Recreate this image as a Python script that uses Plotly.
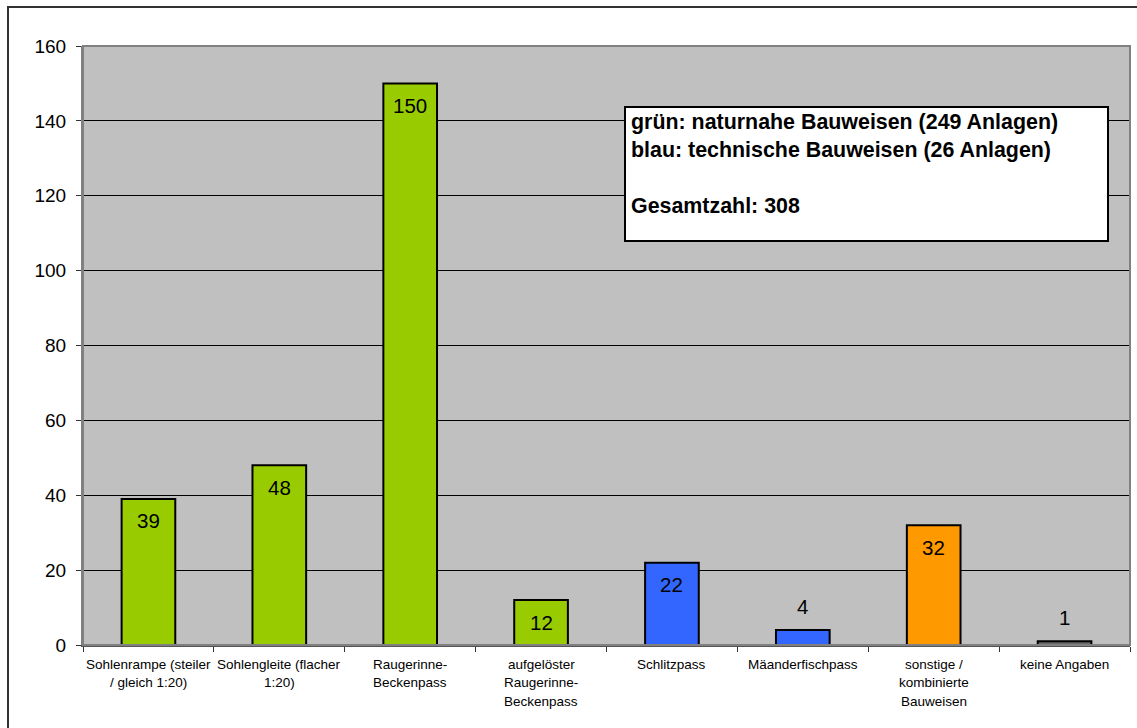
import plotly.graph_objects as go

categories = [
    "Sohlenrampe (steiler\n/ gleich 1:20)",
    "Sohlengleite (flacher\n1:20)",
    "Raugerinne-\nBeckenpass",
    "aufgelöster\nRaugerinne-\nBeckenpass",
    "Schlitzpass",
    "Mäanderfischpass",
    "sonstige /\nkombinierte\nBauweisen",
    "keine Angaben",
]
values = [39, 48, 150, 12, 22, 4, 32, 1]
bar_colors = ["#99CC00", "#99CC00", "#99CC00", "#99CC00",
              "#3366FF", "#3366FF", "#FF9900", "#666666"]
y_ticks = [0, 20, 40, 60, 80, 100, 120, 140, 160]
info_lines = [
    "grün: naturnahe Bauweisen (249 Anlagen)",
    "blau: technische Bauweisen (26 Anlagen)",
    "",
    "Gesamtzahl: 308",
]

FONT = "Liberation Sans, Arial, sans-serif"
W, H = 1137, 728
ML, MR, MT, MB = 83, 7, 46, 83
PW, PH = W - ML - MR, H - MT - MB

def px_x(x):
    return (x - ML) / PW

def px_y(y):
    return (H - MB - y) / PH

cat_ids = list(range(len(categories)))

fig = go.Figure()
fig.add_trace(go.Bar(
    x=cat_ids, y=values,
    marker=dict(color=bar_colors, line=dict(color="black", width=2)),
    hoverinfo="skip",
))

annotations = []
# data labels
for i, v in enumerate(values):
    bar_px = v / 160 * PH
    shift = -22 if bar_px > 40 else 24
    annotations.append(dict(
        x=i, y=v, xref="x", yref="y", text=str(v), showarrow=False,
        yanchor="middle", yshift=shift,
        font=dict(family=FONT, size=20.5, color="black"),
    ))
# category labels (multi-line)
for i, cat in enumerate(categories):
    for j, line in enumerate(cat.split("\n")):
        annotations.append(dict(
            x=i, y=0, xref="x", yref="paper", text=line, showarrow=False,
            yanchor="middle", yshift=-(19 + j * 18.5),
            font=dict(family=FONT, size=13.5, color="black"),
        ))
# info box text
box_top = px_y(107)
for j, line in enumerate(info_lines):
    if not line:
        continue
    annotations.append(dict(
        x=px_x(629), y=box_top, xref="paper", yref="paper", text="<b>" + line + "</b>",
        showarrow=False, xanchor="left", yanchor="middle", yshift=-(15 + j * 28),
        font=dict(family=FONT, size=21.4, color="black"),
    ))

shapes = [
    # outer chart border
    dict(type="rect", xref="paper", yref="paper",
         x0=px_x(8), x1=px_x(1160), y0=px_y(750), y1=px_y(7),
         line=dict(color="#333333", width=2), fillcolor="rgba(0,0,0,0)", layer="below"),
    # plot area border
    dict(type="rect", xref="paper", yref="paper", x0=0, x1=1, y0=0, y1=1,
         line=dict(color="#808080", width=2), fillcolor="rgba(0,0,0,0)", layer="above"),
    # info box
    dict(type="rect", xref="paper", yref="paper",
         x0=px_x(625), x1=px_x(1108), y0=px_y(241), y1=px_y(107),
         line=dict(color="black", width=2), fillcolor="white", layer="above"),
]

fig.update_layout(
    width=W, height=H, autosize=False,
    margin=dict(l=ML, r=MR, t=MT, b=MB, pad=0),
    paper_bgcolor="white", plot_bgcolor="#C0C0C0",
    showlegend=False, bargap=0.59,
    font=dict(family=FONT, color="black"),
    annotations=annotations, shapes=shapes,
)
fig.update_xaxes(
    type="linear", range=[-0.5, len(categories) - 0.5],
    tickvals=[i - 0.5 for i in range(len(categories) + 1)],
    showticklabels=False, ticks="outside", ticklen=5, tickcolor="#333333",
    showgrid=False, zeroline=False, showline=True, linecolor="#555555", linewidth=2,
)
fig.update_yaxes(
    range=[0, 160], tickvals=y_ticks, ticks="outside", ticklen=5, tickcolor="#333333",
    tickfont=dict(family=FONT, size=19, color="black"),
    showgrid=True, gridcolor="black", gridwidth=1, zeroline=False,
    showline=True, linecolor="#808080", linewidth=2, ticklabelstandoff=6,
)

fig.write_html(
    "out.html",
    config={"displayModeBar": False},
    post_script="document.body.style.margin='0px';document.body.style.overflow='hidden';",
)
